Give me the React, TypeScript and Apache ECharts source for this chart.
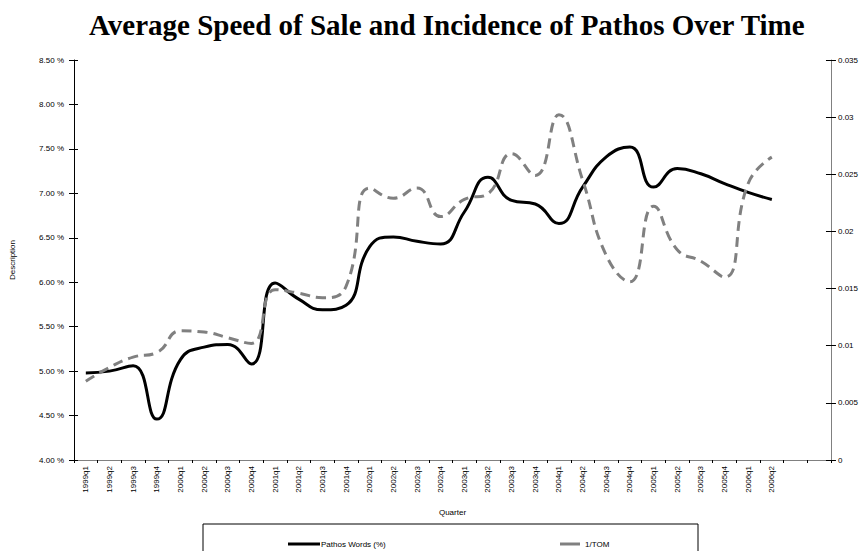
import React, { useEffect, useRef } from "react";
import * as echarts from "echarts";

const quarters = [
  "1999q1", "1999q2", "1999q3", "1999q4",
  "2000q1", "2000q2", "2000q3", "2000q4",
  "2001q1", "2001q2", "2001q3", "2001q4",
  "2002q1", "2002q2", "2002q3", "2002q4",
  "2003q1", "2003q2", "2003q3", "2003q4",
  "2004q1", "2004q2", "2004q3", "2004q4",
  "2005q1", "2005q2", "2005q3", "2005q4",
  "2006q1", "2006q2", "", "",
];

const pathosWords = [
  4.98, 5.0, 5.06, 4.46,
  5.13, 5.27, 5.3, 5.08,
  5.99, 5.81, 5.69, 5.74,
  6.4, 6.51, 6.46, 6.43,
  6.79, 7.18, 6.92, 6.88,
  6.66, 7.07, 7.41, 7.52,
  7.07, 7.28, 7.22, 7.11,
  7.01, 6.93,
];

const invTom = [
  0.0069, 0.0081, 0.009, 0.0094,
  0.0113, 0.0112, 0.0107, 0.0102,
  0.0149, 0.0146, 0.0142, 0.0152,
  0.0238, 0.0229, 0.0238, 0.0213,
  0.0228, 0.0233, 0.0268, 0.0249,
  0.0302, 0.0245, 0.0179, 0.0156,
  0.0222, 0.0184, 0.0174, 0.016,
  0.0242, 0.0265,
];

const leftTicks = { min: 4, max: 8.5, interval: 0.5 };
const rightTicks = { min: 0, max: 0.035, interval: 0.005 };

const FONT = "'Liberation Sans', Arial, sans-serif";

export default function App() {
  const ref = useRef<HTMLDivElement>(null);
  useEffect(() => {
    if (!ref.current) return;
    const chart = echarts.init(ref.current, null, { renderer: "svg" });
    chart.setOption({
      animation: false,
      backgroundColor: "#fff",
      title: {
        text: "Average Speed of Sale and Incidence of Pathos Over Time",
        left: 84,
        top: 5,
        textStyle: {
          fontFamily: "'Liberation Serif', 'Times New Roman', serif",
          fontWeight: "bold",
          fontSize: 29,
          color: "#000",
        },
      },
      grid: { left: 72, right: 29, top: 60, bottom: 91 },
      legend: [
        {
          data: ["Pathos Words (%)"],
          left: 283,
          top: 535,
          icon: "rect",
          itemWidth: 32,
          itemHeight: 3,
          itemGap: 2,
          textStyle: { fontFamily: FONT, fontSize: 8, color: "#000", padding: [0, 0, 0, -4] },
        },
        {
          data: ["1/TOM"],
          left: 555,
          top: 535,
          icon: "rect",
          itemWidth: 20,
          itemHeight: 3,
          textStyle: { fontFamily: FONT, fontSize: 8, color: "#000" },
        },
      ],
      graphic: [
        {
          type: "rect",
          shape: { x: 203, y: 524, width: 495, height: 40 },
          style: { fill: "none", stroke: "#000", lineWidth: 1 },
          silent: true,
        },
      ],
      xAxis: [
        {
          type: "category",
          data: quarters,
          boundaryGap: true,
          name: "Quarter",
          nameLocation: "middle",
          nameGap: 48,
          nameTextStyle: { fontFamily: FONT, fontSize: 8, color: "#000" },
          axisLine: { lineStyle: { color: "#000", width: 1 } },
          axisTick: { inside: true, length: 4, lineStyle: { color: "#000" }, interval: 0 },
          axisLabel: {
            rotate: 90,
            interval: 0,
            fontFamily: FONT,
            fontSize: 8,
            color: "#000",
            margin: 6,
          },
          splitLine: { show: false },
        },
        {
          type: "category",
          data: quarters,
          position: "top",
          axisLine: { lineStyle: { color: "#808080", width: 1 } },
          axisTick: { show: false },
          axisLabel: { show: false },
          splitLine: { show: false },
        },
        {
          type: "category",
          data: quarters,
          position: "bottom",
          axisLine: { show: false },
          axisTick: { show: true, length: 3, interval: 0, lineStyle: { color: "#000" } },
          axisLabel: { show: false },
          splitLine: { show: false },
        },
      ],
      yAxis: [
        {
          type: "value",
          ...leftTicks,
          name: "Description",
          nameLocation: "middle",
          nameGap: 58,
          nameTextStyle: { fontFamily: FONT, fontSize: 8, color: "#000" },
          axisLine: { show: true, lineStyle: { color: "#000", width: 1 } },
          axisTick: { show: true, length: 5, lineStyle: { color: "#000" } },
          axisLabel: {
            fontFamily: FONT,
            fontSize: 8,
            color: "#000",
            margin: 10,
            formatter: (v: number) => v.toFixed(2) + " %",
          },
          splitLine: { show: false },
        },
        {
          type: "value",
          ...rightTicks,
          position: "right",
          axisLine: { show: true, lineStyle: { color: "#808080", width: 1 } },
          axisTick: { show: true, length: 5, lineStyle: { color: "#000" } },
          axisLabel: {
            fontFamily: FONT,
            fontSize: 8,
            color: "#000",
            margin: 7,
            formatter: (v: number) => String(parseFloat(v.toFixed(3))),
          },
          splitLine: { show: false },
        },
        {
          type: "value",
          ...leftTicks,
          position: "left",
          axisLine: { show: false },
          axisTick: { show: true, inside: true, length: 4, lineStyle: { color: "#000" } },
          axisLabel: { show: false },
          splitLine: { show: false },
        },
        {
          type: "value",
          ...rightTicks,
          position: "right",
          axisLine: { show: false },
          axisTick: { show: true, inside: true, length: 5, lineStyle: { color: "#000" } },
          axisLabel: { show: false },
          splitLine: { show: false },
        },
      ],
      series: [
        {
          name: "Pathos Words (%)",
          type: "line",
          data: pathosWords,
          yAxisIndex: 0,
          smooth: 0.5,
          symbol: "none",
          lineStyle: { color: "#000", width: 3 },
          itemStyle: { color: "#000" },
        },
        {
          name: "1/TOM",
          type: "line",
          data: invTom,
          yAxisIndex: 1,
          smooth: 0.5,
          symbol: "none",
          lineStyle: { color: "#808080", width: 3, type: [10, 6] },
          itemStyle: { color: "#808080" },
        },
      ],
    });
    return () => chart.dispose();
  }, []);
  return <div ref={ref} style={{ width: 861, height: 551, position: "absolute", left: 0, top: 0 }} />;
}
